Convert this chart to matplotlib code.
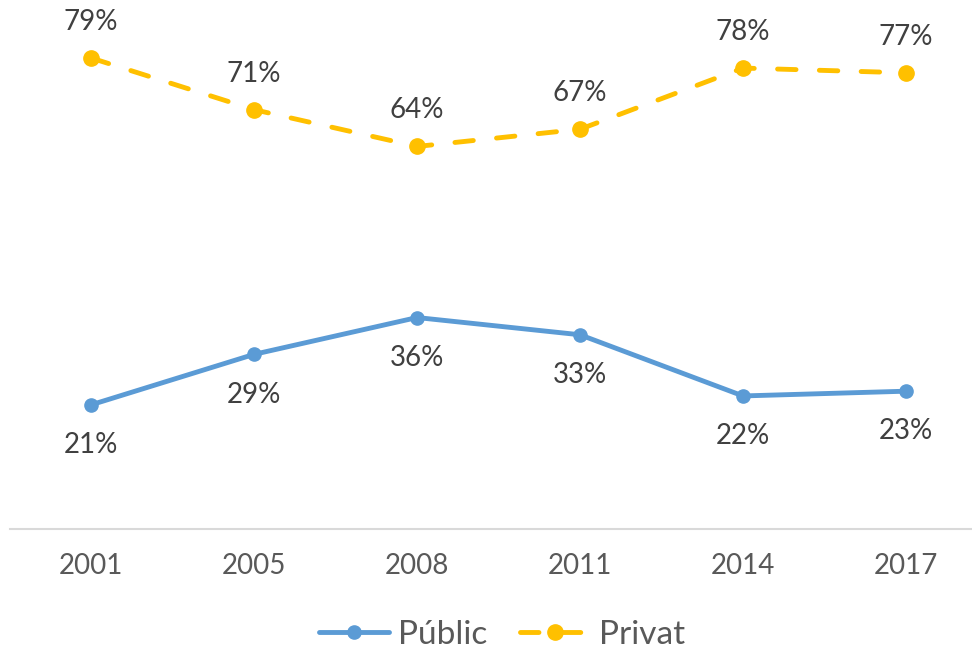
import matplotlib.pyplot as plt

# Data
years = ["2001", "2005", "2008", "2011", "2014", "2017"]
public = [20.9, 29.4, 35.6, 32.7, 22.4, 23.2]
privat = [79.3, 70.6, 64.4, 67.3, 77.6, 76.8]
public_labels = ["21%", "29%", "36%", "33%", "22%", "23%"]
privat_labels = ["79%", "71%", "64%", "67%", "78%", "77%"]

plt.rcParams['font.family'] = ['Lato', 'DejaVu Sans']

blue = "#5B9BD5"
gold = "#FFC000"

fig = plt.figure(figsize=(9.72, 6.5), dpi=100)
W, H = 972, 650
# axes placed in pixel coords: x from 9.5 to 987.5, y zero at 529px from top
ax = fig.add_axes([9.5 / W, (H - 529) / H, 978 / W, 529 / H])

x = list(range(len(years)))
ax.plot(x, public, color=blue, lw=3.5, marker="o", ms=9.5,
        solid_capstyle="round", label="Públic")
ax.plot(x, privat, color=gold, lw=3.5, marker="o", ms=11,
        linestyle=(0, (3.8, 4.8)), dash_capstyle="round", label="Privat")

for i in x:
    ax.annotate(public_labels[i], (i, public[i]), xytext=(0, -29),
                textcoords="offset points", ha="center", va="center",
                fontsize=20, color="#404040")
    ax.annotate(privat_labels[i], (i, privat[i]), xytext=(0, 26),
                textcoords="offset points", ha="center", va="center",
                fontsize=20, color="#404040")

ax.set_xlim(-0.5, 5.5)
ax.set_ylim(0, 529 / 5.94)
ax.set_xticks(x)
ax.set_xticklabels(years, fontsize=20, color="#595959")
ax.tick_params(axis="x", length=0, pad=17)
ax.set_yticks([])
for s in ["top", "right", "left"]:
    ax.spines[s].set_visible(False)
ax.spines["bottom"].set_color("#D9D9D9")
ax.spines["bottom"].set_linewidth(1.5)

fig.legend(loc="center", bbox_to_anchor=(502 / W, 1 - 635 / H), ncol=2,
           frameon=False, fontsize=24, handlelength=2.1, columnspacing=1.0,
           handletextpad=0.25, labelcolor="#595959")

plt.savefig("out.png", dpi=100)
